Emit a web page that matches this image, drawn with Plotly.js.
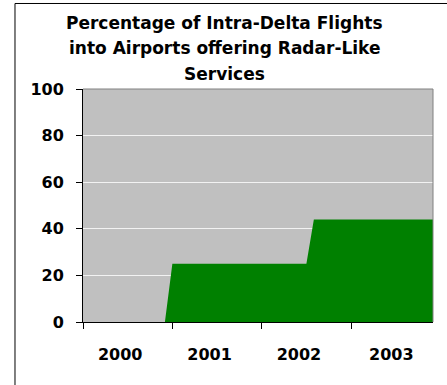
<!DOCTYPE html>
<html>
<head>
<meta charset="utf-8">
<script src="https://cdn.plot.ly/plotly-3.0.1.min.js"></script>
<style>
  html, body { margin: 0; padding: 0; background: #ffffff; }
  #chart { width: 447px; height: 385px; }
</style>
</head>
<body>
<div id="chart"></div>
<script>
// Monthly share (%) of intra-Delta flights landing at airports with radar-like services
const months = [
  'Jan 2000', 'Feb 2000', 'Mar 2000', 'Apr 2000', 'May 2000', 'Jun 2000',
  'Jul 2000', 'Aug 2000', 'Sep 2000', 'Oct 2000', 'Nov 2000', 'Dec 2000',
  'Jan 2001', 'Feb 2001', 'Mar 2001', 'Apr 2001', 'May 2001', 'Jun 2001',
  'Jul 2001', 'Aug 2001', 'Sep 2001', 'Oct 2001', 'Nov 2001', 'Dec 2001',
  'Jan 2002', 'Feb 2002', 'Mar 2002', 'Apr 2002', 'May 2002', 'Jun 2002',
  'Jul 2002', 'Aug 2002', 'Sep 2002', 'Oct 2002', 'Nov 2002', 'Dec 2002',
  'Jan 2003', 'Feb 2003', 'Mar 2003', 'Apr 2003', 'May 2003', 'Jun 2003',
  'Jul 2003', 'Aug 2003', 'Sep 2003', 'Oct 2003', 'Nov 2003', 'Dec 2003'
];
const percentRadarLike = [
  0, 0, 0, 0, 0, 0, 0, 0, 0, 0, 0, 0,
  25, 25, 25, 25, 25, 25, 25, 25, 25, 25, 25, 25,
  25, 25, 25, 25, 25, 25, 25, 44, 44, 44, 44, 44,
  44, 44, 44, 44, 44, 44, 44, 44, 44, 44, 44, 44
];
const yearLabels = ['2000', '2001', '2002', '2003'];
const yTicks = [0, 20, 40, 60, 80, 100];
const titleLines = [
  'Percentage of Intra-Delta Flights',
  'into Airports offering Radar-Like',
  'Services'
];

// month position along the axis
const monthIndex = months.map((m, i) => i);

const FONT = 'DejaVu Sans, Arial, sans-serif';
const yearLabelPos = [5, 17, 29, 41.4];
const yearStartPos = [0, 12, 24, 36];
const titleY = [1.2837, 1.1747, 1.0657];

const trace = {
  type: 'scatter',
  mode: 'lines',
  x: monthIndex,
  y: percentRadarLike,
  text: months,
  hoverinfo: 'text+y',
  fill: 'tozeroy',
  fillcolor: '#008000',
  line: { color: '#008000', width: 0 },
  showlegend: false
};

const layout = {
  width: 447,
  height: 385,
  margin: { l: 83, r: 14, t: 89, b: 63, pad: 0 },
  paper_bgcolor: '#ffffff',
  plot_bgcolor: '#C0C0C0',
  showlegend: false,
  xaxis: {
    type: 'linear',
    range: [0, 47],
    fixedrange: true,
    showgrid: false,
    zeroline: false,
    showline: true,
    linecolor: '#000000',
    linewidth: 1,
    tickmode: 'array',
    tickvals: yearLabelPos,
    ticktext: yearLabels,
    ticks: '',
    ticklabelstandoff: 18,
    tickfont: { family: FONT, size: 16, color: '#000000', weight: 'bold' },
    minor: {
      tickmode: 'array',
      tickvals: yearStartPos,
      ticks: 'outside',
      ticklen: 6,
      tickwidth: 1,
      tickcolor: '#000000',
      showgrid: false
    }
  },
  yaxis: {
    range: [0, 100],
    fixedrange: true,
    tickmode: 'array',
    tickvals: yTicks,
    ticktext: yTicks.map(String),
    showgrid: true,
    gridcolor: '#F2F2F2',
    gridwidth: 1,
    zeroline: false,
    showline: true,
    linecolor: '#000000',
    linewidth: 1,
    ticks: 'outside',
    ticklen: 6,
    tickcolor: '#000000',
    ticklabelstandoff: 9,
    tickfont: { family: FONT, size: 16, color: '#000000', weight: 'bold' }
  },
  annotations: titleLines.map((t, i) => ({
    text: t,
    xref: 'paper', yref: 'paper',
    x: 0.405, y: titleY[i],
    xanchor: 'center', yanchor: 'middle',
    showarrow: false,
    font: { family: FONT, size: 17, color: '#000000', weight: 'bold' }
  })),
  shapes: [
    // grey top and right edges of the plotting area
    { type: 'line', xref: 'paper', yref: 'paper', x0: 0, x1: 1, y0: 1, y1: 1,
      line: { color: '#808080', width: 1 }, layer: 'above' },
    { type: 'line', xref: 'paper', yref: 'paper', x0: 1, x1: 1, y0: 0, y1: 1,
      line: { color: '#808080', width: 1 }, layer: 'above' },
    // outer chart frame (top and left edges)
    { type: 'line', xref: 'paper', yref: 'paper', x0: -0.1943, x1: 1.2, y0: 1.367, y1: 1.367,
      line: { color: '#000000', width: 1 }, layer: 'above' },
    { type: 'line', xref: 'paper', yref: 'paper', x0: -0.1943, x1: -0.1943, y0: -0.4, y1: 1.367,
      line: { color: '#000000', width: 1 }, layer: 'above' }
  ]
};

Plotly.newPlot('chart', [trace], layout, { displayModeBar: false, staticPlot: true });
</script>
</body>
</html>
